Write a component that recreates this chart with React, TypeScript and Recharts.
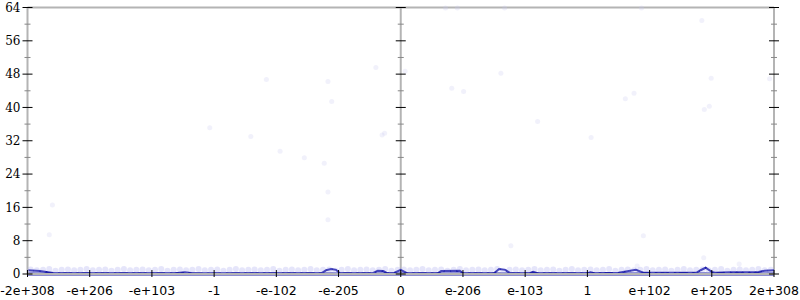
import React from 'react';
import { ComposedChart, Line, Scatter, XAxis, YAxis, ReferenceLine } from 'recharts';

const xLabels = [
  '-2e+308', '-e+206', '-e+103', '-1', '-e-102', '-e-205', '0',
  'e-206', 'e-103', '1', 'e+102', 'e+205', '2e+308',
];
const xTicks = [0, 1, 2, 3, 4, 5, 6, 7, 8, 9, 10, 11, 12];
const yTicks = [0, 4, 8, 12, 16, 20, 24, 28, 32, 36, 40, 44, 48, 52, 56, 60, 64];

// density outline along the bottom
const curveX = [
  0, 0.2, 0.44, 2.37, 2.53, 2.69, 4.73, 4.8, 4.88, 4.96, 5.02, 5.55, 5.63, 5.72, 5.78,
  5.9, 6.0, 6.1, 6.6, 6.65, 6.95, 7.0, 7.5, 7.58, 7.68, 7.76, 8.07, 8.13, 8.2, 9.0, 9.05,
  9.12, 9.5, 9.78, 9.9, 10.75, 10.82, 10.9, 11.0, 11.05, 11.3, 11.75, 11.85, 12,
];
const curveY = [
  0.9, 0.7, 0.2, 0.2, 0.4, 0.15, 0.2, 0.9, 1.2, 1.0, 0.2, 0.2, 0.8, 0.7, 0.2,
  0.3, 1.0, 0.2, 0.2, 0.7, 0.8, 0.2, 0.2, 1.2, 1.0, 0.2, 0.2, 0.5, 0.2, 0.2, 0.4,
  0.2, 0.3, 1.0, 0.3, 0.3, 0.9, 1.5, 0.5, 0.3, 0.4, 0.5, 0.8, 0.9,
];

// light samples packed near zero
const bandX = [
  0.05, 0.15, 0.25, 0.35, 0.45, 0.55, 0.65, 0.75, 0.85, 0.95, 1.05, 1.15, 1.25, 1.35, 1.45,
  1.55, 1.65, 1.75, 1.85, 1.95, 2.05, 2.15, 2.25, 2.35, 2.45, 2.55, 2.65, 2.75, 2.85, 2.95,
  3.05, 3.15, 3.25, 3.35, 3.45, 3.55, 3.65, 3.75, 3.85, 3.95, 4.05, 4.15, 4.25, 4.35, 4.45,
  4.55, 4.65, 4.75, 4.85, 4.95, 5.05, 5.15, 5.25, 5.35, 5.45, 5.55, 5.65, 5.75, 5.85, 5.95,
  6.05, 6.15, 6.25, 6.35, 6.45, 6.55, 6.65, 6.75, 6.85, 6.95, 7.05, 7.15, 7.25, 7.35, 7.45,
  7.55, 7.65, 7.75, 7.85, 7.95, 8.05, 8.15, 8.25, 8.35, 8.45, 8.55, 8.65, 8.75, 8.85, 8.95,
  9.05, 9.15, 9.25, 9.35, 9.45, 9.55, 9.65, 9.75, 9.85, 9.95, 10.05, 10.15, 10.25, 10.35, 10.45,
  10.55, 10.65, 10.75, 10.85, 10.95, 11.05, 11.15, 11.25, 11.35, 11.45, 11.55, 11.65, 11.75, 11.85, 11.95,
];
const bandY = [
  1.1, 0.9, 1.0, 1.2, 0.8, 1.0, 1.1, 0.9, 1.0, 1.2, 0.9, 1.0, 1.1, 0.8, 1.0,
  1.2, 0.9, 1.0, 1.1, 0.9, 1.0, 1.2, 0.8, 1.0, 1.1, 0.9, 1.0, 1.2, 0.9, 1.0,
  1.1, 0.8, 1.0, 1.2, 0.9, 1.0, 1.1, 0.9, 1.0, 1.2, 0.8, 1.0, 1.1, 0.9, 1.0,
  1.2, 0.9, 1.0, 1.1, 0.8, 1.0, 1.2, 0.9, 1.0, 1.1, 0.9, 1.0, 1.2, 0.8, 1.0,
  1.1, 0.9, 1.0, 1.2, 0.9, 1.0, 1.1, 0.8, 1.0, 1.2, 0.9, 1.0, 1.1, 0.9, 1.0,
  1.2, 0.8, 1.0, 1.1, 0.9, 1.0, 1.2, 0.9, 1.0, 1.1, 0.8, 1.0, 1.2, 0.9, 1.0,
  1.1, 0.9, 1.0, 1.2, 0.8, 1.0, 1.1, 0.9, 1.0, 1.2, 0.9, 1.0, 1.1, 0.8, 1.0,
  1.2, 0.9, 1.0, 1.1, 0.9, 1.0, 1.2, 0.8, 1.0, 1.1, 0.9, 1.0, 1.2, 0.9, 1.0,
];

// faint outliers
const outX = [
  5.6, 3.84, 4.83, 4.89, 3.59, 5.7, 5.74, 6.72, 6.91, 7.67, 6.07, 7.61, 6.82, 7.01, 8.2,
  9.87, 10.84, 10.99, 11.93, 9.75, 9.61, 10.96, 10.88, 9.06, 2.93, 4.06, 4.45, 4.77, 4.83,
  4.83, 0.35, 7.77, 9.9, 10.87, 11.44, 9.8, 0.4,
];
const outY = [
  49.6, 46.7, 46.2, 41.4, 33.0, 33.4, 33.8, 63.9, 63.9, 63.9, 48.7, 48.2, 44.6, 43.8, 36.6,
  63.9, 60.9, 47.0, 46.9, 43.4, 42.1, 40.3, 39.5, 32.8, 35.1, 29.5, 27.9, 26.6, 19.7,
  13.0, 9.4, 6.8, 9.2, 3.9, 2.4, 1.9, 16.6,
];

const curve = curveX.map((x, i) => ({ x, y: curveY[i] }));
const band = bandX.map((x, i) => ({ x, y: bandY[i] }));
const outliers = outX.map((x, i) => ({ x, y: outY[i] }));

const PLOT_W = 746.5;
const GRID = '#b4b4b4';

const XTick = (props: any) => {
  const { x, y, payload } = props;
  return (
    <g>
      <line x1={x} x2={x} y1={y - 4} y2={y + 3} stroke="#000" strokeWidth={1} />
      <text x={x} y={y + 21} textAnchor="middle" fontFamily="DejaVu Sans" fontSize={12.5} fill="#000">
        {xLabels[payload.value]}
      </text>
    </g>
  );
};

const YTick = (props: any) => {
  const { x, y, payload } = props;
  const major = payload.value % 8 === 0;
  const h = major ? 5 : 3;
  const col = major ? '#000' : '#888';
  const xs = [x, x + PLOT_W / 2, x + PLOT_W];
  return (
    <g>
      {xs.map((cx, i) => (
        <line key={i} x1={cx - h} x2={cx + h} y1={y} y2={y} stroke={col} strokeWidth={1} />
      ))}
      {major && (
        <text x={x - 7} y={y} dy="0.36em" textAnchor="end" fontFamily="DejaVu Serif" fontSize={12} fill="#000">
          {payload.value}
        </text>
      )}
    </g>
  );
};

const dot = (fill: string, opacity: number, r: number) => (p: any) =>
  <circle cx={p.cx} cy={p.cy} r={r} fill={fill} fillOpacity={opacity} />;

export default function App() {
  return (
    <div style={{ position: 'absolute', left: 0, top: 0, background: '#fff' }}>
      <ComposedChart width={800} height={300} margin={{ top: 7.5, right: 26, bottom: 0, left: 0 }}>
        <XAxis
          dataKey="x"
          type="number"
          domain={[0, 12]}
          ticks={xTicks}
          interval={0}
          tickSize={0}
          tickMargin={0}
          tickLine={false}
          axisLine={{ stroke: GRID, strokeWidth: 2 }}
          tick={<XTick />}
          height={26}
        />
        <YAxis
          type="number"
          domain={[0, 64]}
          ticks={yTicks}
          interval={0}
          tickSize={0}
          tickMargin={0}
          tickLine={false}
          axisLine={{ stroke: GRID, strokeWidth: 2 }}
          tick={<YTick />}
          width={27.5}
        />
        <ReferenceLine y={64} stroke={GRID} strokeWidth={2} />
        <ReferenceLine x={6} stroke={GRID} strokeWidth={2} />
        <ReferenceLine x={12} stroke={GRID} strokeWidth={2} />
        <Scatter data={outliers} dataKey="y" shape={dot('#c8c8f0', 0.25, 2.5)} isAnimationActive={false} />
        <Scatter data={band} dataKey="y" shape={dot('#a8a8ee', 0.3, 3)} isAnimationActive={false} />
        <Line
          data={curve}
          dataKey="y"
          type="linear"
          stroke="#1c1ca8"
          strokeWidth={2}
          dot={false}
          isAnimationActive={false}
        />
        <ReferenceLine y={0} stroke="#1c1ca8" strokeWidth={3} />
      </ComposedChart>
    </div>
  );
}
